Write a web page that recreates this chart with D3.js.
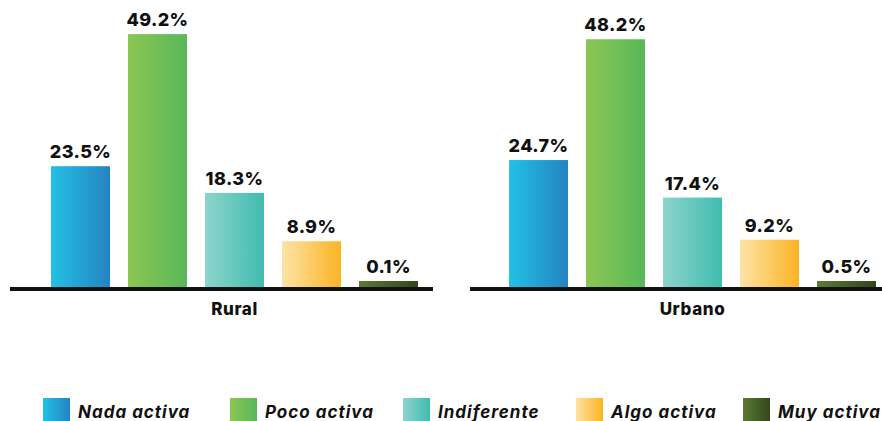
<!DOCTYPE html>
<html>
<head>
<meta charset="utf-8">
<script src="https://cdn.jsdelivr.net/npm/d3@7"></script>
<style>
  html, body { margin: 0; padding: 0; background: #fff; }
  svg { display: block; }
</style>
</head>
<body>
<div id="chart"></div>
<script>
// ---- data ----
const categories = ["Nada activa", "Poco activa", "Indiferente", "Algo activa", "Muy activa"];
const groups = ["Rural", "Urbano"];
const ruralValues = [23.5, 49.2, 18.3, 8.9, 0.1];
const urbanoValues = [24.7, 48.2, 17.4, 9.2, 0.5];
const colorStart = ["#22C1E4", "#8CC653", "#8ED4CC", "#FDE3A6", "#5A7B36"];
const colorEnd   = ["#2583C1", "#58B85A", "#40BCB0", "#FBB322", "#33461C"];

// ---- layout ----
const W = 882, H = 421;
const baseY = 287;
const FONT = "Inter, 'Open Sans', sans-serif";

const svg = d3.select("#chart").append("svg")
  .attr("width", W).attr("height", H);

const defs = svg.append("defs");
categories.forEach((c, i) => {
  const g = defs.append("linearGradient")
    .attr("id", "grad" + i)
    .attr("x1", "0%").attr("x2", "100%").attr("y1", "0%").attr("y2", "0%");
  g.append("stop").attr("offset", "0%").attr("stop-color", colorStart[i]);
  g.append("stop").attr("offset", "100%").attr("stop-color", colorEnd[i]);
});

const y = d3.scaleLinear().domain([0, 50]).range([baseY, 30]);

const panels = [
  { name: groups[0], values: ruralValues, range: [42, 427], axis: [10, 433] },
  { name: groups[1], values: urbanoValues, range: [500, 885], axis: [470, 882] }
];

panels.forEach(p => {
  const x = d3.scaleBand().domain(categories).range(p.range)
    .paddingInner(0.234).paddingOuter(0.117);
  const g = svg.append("g");
  const data = categories.map((c, i) => ({ c, i, v: p.values[i] }));
  const top = d => Math.min(y(d.v), baseY - 6);

  g.selectAll("rect.bar").data(data).join("rect")
    .attr("class", "bar")
    .attr("x", d => x(d.c))
    .attr("width", x.bandwidth())
    .attr("y", d => top(d))
    .attr("height", d => baseY - top(d))
    .attr("fill", d => `url(#grad${d.i})`);

  g.selectAll("text.val").data(data).join("text")
    .attr("class", "val")
    .attr("x", d => x(d.c) + x.bandwidth() / 2)
    .attr("y", d => top(d) - 8)
    .attr("text-anchor", "middle")
    .style("font-family", FONT)
    .style("font-weight", 800)
    .style("font-size", "18px")
    .style("letter-spacing", "0.4px")
    .attr("fill", "#111")
    .text(d => d.v.toFixed(1) + "%");

  g.append("line")
    .attr("x1", p.axis[0]).attr("x2", p.axis[1])
    .attr("y1", baseY + 2).attr("y2", baseY + 2)
    .attr("stroke", "#111").attr("stroke-width", 4);

  const cx = (x(categories[0]) + x(categories[4]) + x.bandwidth()) / 2;
  g.append("text")
    .attr("x", cx).attr("y", 315)
    .attr("text-anchor", "middle")
    .style("font-family", FONT)
    .style("font-weight", 800)
    .style("font-size", "17px")
    .style("letter-spacing", "0.6px")
    .attr("fill", "#111")
    .text(p.name);
});

// ---- legend ----
const legendX = [43, 230, 403, 576, 743];
const lg = svg.append("g");
categories.forEach((c, i) => {
  lg.append("rect")
    .attr("x", legendX[i]).attr("y", 398)
    .attr("width", 27).attr("height", 23)
    .attr("fill", `url(#grad${i})`);
  lg.append("text")
    .attr("x", legendX[i] + 35).attr("y", 418)
    .style("font-family", FONT)
    .style("font-weight", 700)
    .style("font-style", "italic")
    .style("font-size", "17px")
    .style("letter-spacing", "1px")
    .attr("fill", "#111")
    .text(c);
});
</script>
</body>
</html>
